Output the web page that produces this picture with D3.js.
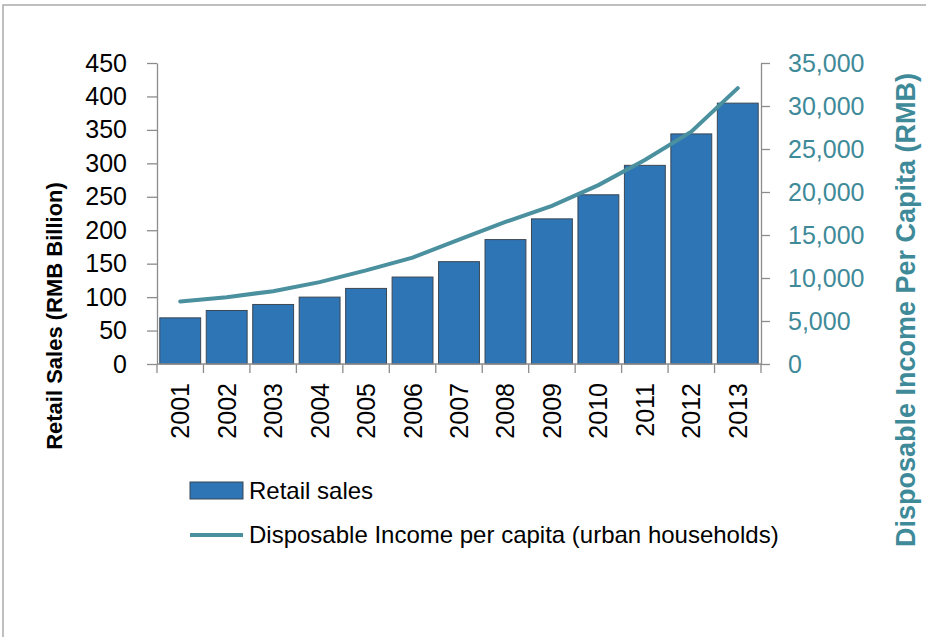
<!DOCTYPE html>
<html>
<head>
<meta charset="utf-8">
<script src="https://cdn.jsdelivr.net/npm/d3@7"></script>
<style>
body { margin: 0; background: #fff; }
text { font-family: 'Liberation Sans', Arial, sans-serif; }
.axis path, .axis line { stroke: #8c8c8c; stroke-width: 1.3; }
</style>
</head>
<body>
<div id="chart"></div>
<script>
let years = ['2001', '2002', '2003', '2004', '2005', '2006', '2007', '2008', '2009', '2010', '2011', '2012', '2013']
let retailSales = [69, 80, 89, 100, 113, 130, 153, 186, 217, 253, 297, 344, 390]
let incomePerCapita = [7270, 7770, 8470, 9520, 10880, 12370, 14470, 16520, 18390, 20800, 23720, 27020, 32080]
let leftTicks = [0, 50, 100, 150, 200, 250, 300, 350, 400, 450]
let rightTicks = [0, 5000, 10000, 15000, 20000, 25000, 30000, 35000]

let W = 926, H = 637
let plot = { left: 157, right: 761, top: 63, bottom: 364 }
let barColor = '#2e75b6', lineColor = '#4a909e', tealText = '#3f8a98'

let svg = d3.select('#chart')
.append('svg')
.attr('width', W)
.attr('height', H)

// frame (only top and left edges show)
svg.append('path')
.attr('d', `M3,${H} L3,5 L${W},5`)
.attr('fill', 'none')
.attr('stroke', '#ababab')
.attr('stroke-width', 1.5)

let x = d3.scaleBand()
.domain(years)
.range([plot.left, plot.right])
.paddingInner(0.12)
.paddingOuter(0.06)

let yLeft = d3.scaleLinear()
.domain([0, 450])
.range([plot.bottom, plot.top])

let yRight = d3.scaleLinear()
.domain([0, 35000])
.range([plot.bottom, plot.top])

// bars
svg.selectAll('.bar')
.data(retailSales)
.join('rect')
.attr('class', 'bar')
.attr('x', (d, i) => x(years[i]))
.attr('y', d => yLeft(d))
.attr('width', x.bandwidth())
.attr('height', d => yLeft(0) - yLeft(d))
.attr('fill', barColor)
.attr('stroke', '#3b4754')
.attr('stroke-width', 1)

// left axis
let leftAxis = svg.append('g')
.attr('class', 'axis')
.attr('transform', `translate(${plot.left},0)`)
.call(d3.axisLeft(yLeft).tickValues(leftTicks).tickSize(10).tickSizeOuter(0).tickPadding(20))
leftAxis.selectAll('text')
.attr('font-size', 25)
.attr('fill', '#000')
.attr('font-family', 'Liberation Sans, Arial, sans-serif')

// right axis
let rightAxis = svg.append('g')
.attr('class', 'axis')
.attr('transform', `translate(${plot.right},0)`)
.call(d3.axisRight(yRight).tickValues(rightTicks).tickSize(9).tickSizeOuter(0).tickPadding(18).tickFormat(d3.format(',')))
rightAxis.selectAll('text')
.attr('font-size', 25)
.attr('fill', tealText)
.attr('font-family', 'Liberation Sans, Arial, sans-serif')

// bottom axis: ticks on band boundaries, labels at band centres
let bottom = svg.append('g')
.attr('class', 'axis')
.attr('transform', `translate(0,${plot.bottom})`)
bottom.append('line')
.attr('x1', plot.left)
.attr('x2', plot.right)
let step = (plot.right - plot.left) / years.length
bottom.selectAll('.xtick')
.data(d3.range(years.length + 1))
.join('line')
.attr('class', 'xtick')
.attr('x1', i => plot.left + i * step)
.attr('x2', i => plot.left + i * step)
.attr('y1', 0)
.attr('y2', 9)
bottom.selectAll('.xlabel')
.data(years)
.join('text')
.attr('class', 'xlabel')
.attr('transform', d => `translate(${x(d) + x.bandwidth() / 2 + 9},19) rotate(-90)`)
.attr('text-anchor', 'end')
.attr('font-size', 25)
.attr('fill', '#000')
.text(d => d)

// income line
let line = d3.line()
.x((d, i) => x(years[i]) + x.bandwidth() / 2)
.y(d => yRight(d))

svg.append('path')
.datum(incomePerCapita)
.attr('d', line)
.attr('fill', 'none')
.attr('stroke', lineColor)
.attr('stroke-width', 4)
.attr('stroke-linecap', 'round')

// axis titles
svg.append('text')
.attr('transform', 'translate(62,316) rotate(-90)')
.attr('text-anchor', 'middle')
.attr('font-size', 22)
.attr('font-weight', 'bold')
.attr('fill', '#000')
.text('Retail Sales (RMB Billion)')

svg.append('text')
.attr('transform', 'translate(915,310) rotate(-90)')
.attr('text-anchor', 'middle')
.attr('font-size', 27)
.attr('font-weight', 'bold')
.attr('fill', tealText)
.text('Disposable Income Per Capita (RMB)')

// legend
let legend = svg.append('g')
.attr('transform', 'translate(190,0)')

legend.append('rect')
.attr('x', 0)
.attr('y', 482)
.attr('width', 53)
.attr('height', 17)
.attr('fill', barColor)
.attr('stroke', '#3b4754')
.attr('stroke-width', 1)

legend.append('text')
.attr('x', 59)
.attr('y', 499)
.attr('font-size', 24)
.attr('fill', '#000')
.text('Retail sales')

legend.append('line')
.attr('x1', 0)
.attr('x2', 53)
.attr('y1', 535)
.attr('y2', 535)
.attr('stroke', lineColor)
.attr('stroke-width', 4)

legend.append('text')
.attr('x', 59)
.attr('y', 543)
.attr('font-size', 24)
.attr('fill', '#000')
.text('Disposable Income per capita (urban households)')
</script>
</body>
</html>
